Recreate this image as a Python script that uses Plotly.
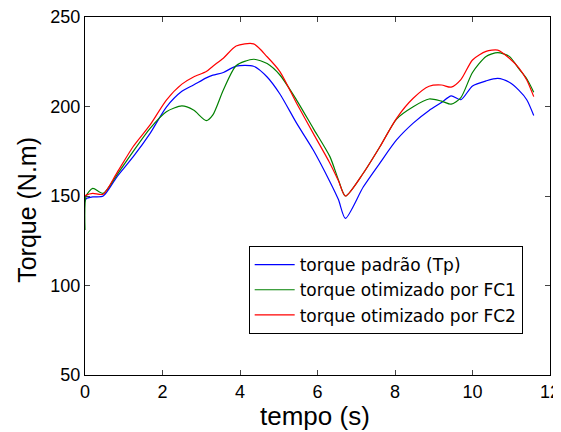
import plotly.graph_objects as go

tempo = [0, 0.03, 0.2, 0.47, 0.82, 1.24, 1.68, 2.1, 2.5, 2.8, 3.13, 3.3, 3.57, 3.9, 4.35, 4.7,
         5.03, 5.46, 5.89, 6.32, 6.54, 6.72, 7.18, 7.61, 8.04, 8.47, 8.88, 9.2, 9.45, 9.7,
         10.0, 10.35, 10.65, 10.95, 11.2, 11.4, 11.58]

torque_tp = [147, 148.5, 149.5, 150, 160.6, 171.8, 185, 199.7, 208.5, 212, 216, 217.5, 219, 222.6, 222.5, 216.5,
             207, 190.7, 175.7, 158, 148, 137.5, 155, 168.4, 181.3, 190.7, 197.8, 202.2, 205.9, 203.8,
             211.5, 214.3, 215.7, 213.5, 209, 203.8, 195]

torque_fc1 = [131, 150, 154.3, 151.5, 161.7, 174.8, 187.8, 197.1, 200.3, 198, 192.1, 195.3, 209.2, 222.8, 226.4, 224,
              217.6, 203.6, 187.8, 172, 159, 150, 162.7, 177.5, 193, 199.9, 204.2, 203, 201.3, 205,
              219, 228, 230.1, 228, 221, 215.5, 208]

torque_fc2 = [150, 150.5, 151.5, 151, 162.8, 177.5, 189.7, 203.6, 212.5, 216.5, 219.5, 222.5, 227, 233.8, 235, 227.8,
              219.5, 201.8, 185, 168.3, 158.5, 150, 162.7, 177.5, 193.4, 204.6, 211.3, 212, 210.8, 215,
              226, 230.8, 231.5, 227, 221.5, 214.8, 205.5]

nomes = ["torque padrão (Tp)", "torque otimizado por FC1", "torque otimizado por FC2"]
cores = ["#0000ff", "#008000", "#ff0000"]
x_ticks = [0, 2, 4, 6, 8, 10, 12]
y_ticks = [50, 100, 150, 200, 250]

fig = go.Figure()
for nome, cor, ys in zip(nomes, cores, [torque_tp, torque_fc1, torque_fc2]):
    fig.add_trace(go.Scatter(x=tempo, y=ys, mode="lines", name=nome,
                             line=dict(color=cor, width=1.2, shape="spline", smoothing=0.7)))

font_family = "Liberation Sans, Arial, sans-serif"
# page body has an 8px margin, so the figure is shrunk by 8px and margins offset
fig.update_layout(
    width=553, height=424,
    margin=dict(l=77, r=11, t=9, b=57),
    paper_bgcolor="white", plot_bgcolor="white",
    font=dict(family=font_family, color="black"),
    showlegend=True,
    legend=dict(x=0.352, y=0.36, xanchor="left", yanchor="top",
                bgcolor="white", bordercolor="black", borderwidth=1,
                font=dict(size=17, family="DejaVu Sans, Liberation Sans, sans-serif"),
                tracegroupgap=0, itemwidth=40),
    xaxis=dict(range=[0, 12], tickvals=x_ticks, ticks="inside", ticklen=5,
               showline=True, linecolor="black", linewidth=1, mirror="ticks",
               showgrid=False, zeroline=False, automargin=False,
               ticklabeloverflow="allow",
               tickfont=dict(size=18)),
    yaxis=dict(range=[50, 250], tickvals=y_ticks, ticks="inside", ticklen=5,
               showline=True, linecolor="black", linewidth=1, mirror="ticks",
               showgrid=False, zeroline=False, automargin=False,
               ticklabeloverflow="allow",
               tickfont=dict(size=18)),
    annotations=[
        dict(text="tempo (s)", xref="paper", yref="paper", x=0.495, y=-0.114,
             xanchor="center", yanchor="middle", showarrow=False,
             font=dict(size=26, family=font_family)),
        dict(text="Torque (N.m)", xref="paper", yref="paper", x=-0.125, y=0.461,
             xanchor="center", yanchor="middle", showarrow=False, textangle=-90,
             font=dict(size=25, family=font_family)),
    ],
)

fig.write_html("out.html")
